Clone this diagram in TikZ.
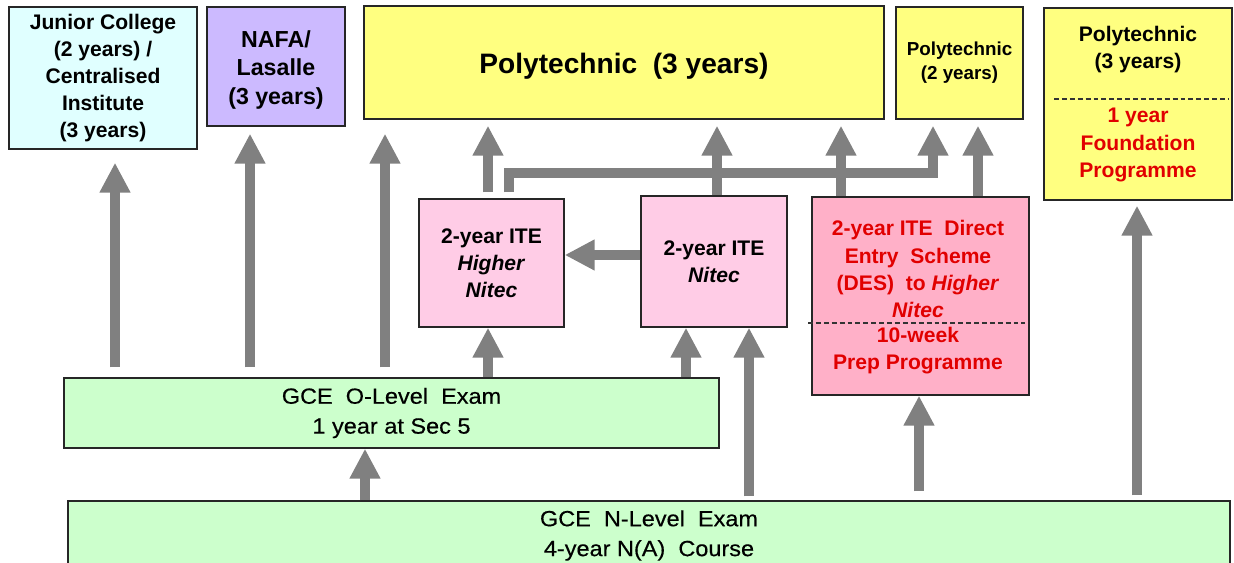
\documentclass[tikz,border=0pt]{standalone}
\usepackage{fontspec}
\setmainfont{Liberation Sans}
\newfontfamily\larges[FakeStretch=1.07,FakeBold=0.4]{Liberation Sans}
\usetikzlibrary{arrows.meta}
\definecolor{cyanclair}{RGB}{224,255,255}
\definecolor{lavande}{RGB}{204,186,255}
\definecolor{jaune}{RGB}{255,255,128}
\definecolor{rosepale}{RGB}{255,204,230}
\definecolor{rosefonce}{RGB}{255,176,200}
\definecolor{vertpale}{RGB}{204,255,204}
\definecolor{gris}{RGB}{128,128,128}
\definecolor{rouge}{RGB}{225,0,0}
\begin{document}
\begin{tikzpicture}[x=0.02cm,y=-0.02cm]
% Styles
\tikzstyle{boite}=[draw=black!85,line width=0.8pt,align=center,inner sep=2pt,font=\bfseries\fontsize{12}{15.4}\selectfont]
\tikzstyle{texte}=[align=center,inner sep=0pt,font=\bfseries\fontsize{12}{15.4}\selectfont]
\tikzstyle{examen}=[boite,fill=vertpale,font=\larges\fontsize{12.5}{17}\selectfont]
\tikzstyle{fleche}=[draw=gris,line width=5.7pt,-{Triangle[length=0.6cm,width=0.58cm]}]
\tikzstyle{tirets}=[black!80,line width=0.7pt,dash pattern=on 2.8pt off 1.7pt]
% Cadre
\useasboundingbox (0,0) rectangle (1234,563);
% Ligne du haut
\node[boite,fill=cyanclair,minimum width=3.76cm,minimum height=2.84cm] (jc) at (103,78)
  {Junior College\\(2 years) /\\Centralised\\Institute\\(3 years)};
\node[boite,fill=lavande,minimum width=2.76cm,minimum height=2.38cm] (nafa) at (276,66.5) {};
\node[texte,font=\bfseries\fontsize{13.2}{16}\selectfont] (nafa-texte) at (276,70)
  {NAFA/\\Lasalle\\(3 years)};
\node[boite,fill=jaune,minimum width=10.4cm,minimum height=2.26cm] (poly) at (624,62.5) {};
\node[texte,font=\bfseries\fontsize{16}{19}\selectfont] (poly-texte) at (624,66)
  {Polytechnic~ (3 years)};
\node[boite,fill=jaune,minimum width=2.54cm,minimum height=2.24cm,font=\bfseries\fontsize{10.7}{13.7}\selectfont] (polyb) at (959.5,63)
  {Polytechnic\\(2 years)};
\node[boite,fill=jaune,minimum width=3.76cm,minimum height=3.84cm] (polyc) at (1138,104) {};
\node[texte] (polyc-haut) at (1138,50) {Polytechnic\\(3 years)};
\node[texte,text=rouge] (polyc-bas) at (1138,145) {1 year\\Foundation\\Programme};
\draw[tirets] (1054,99) -- (1228,99);
% Ligne ITE
\node[boite,fill=rosepale,minimum width=2.9cm,minimum height=2.56cm] (hn) at (491.5,263)
  {2-year ITE\\\textit{Higher}\\\textit{Nitec}};
\node[boite,fill=rosepale,minimum width=2.92cm,minimum height=2.62cm] (nitec) at (714,261.5)
  {2-year ITE\\\textit{Nitec}};
\node[boite,fill=rosefonce,minimum width=4.34cm,minimum height=3.96cm] (des) at (920.5,296) {};
\node[texte,text=rouge] (des-haut) at (918,269)
  {2-year ITE~ Direct\\Entry~ Scheme\\(DES)~ to \textit{Higher}\\\textit{Nitec}};
\node[texte,text=rouge] (des-bas) at (918,351) {10-week\\Prep Programme};
\draw[tirets] (808,323) -- (1025,323);
% Examens
\node[examen,minimum width=13.1cm,minimum height=1.4cm] (olevel) at (391.5,413)
  {GCE~ O-Level~ Exam\\1 year at Sec 5};
\node[examen,minimum width=23.24cm,minimum height=1.38cm] (nlevel) at (649,535.5)
  {GCE~ N-Level~ Exam\\4-year N(A)~ Course};
% Depuis le GCE O-Level
\draw[fleche,shorten <=0.2cm,shorten >=0.26cm] (olevel.north -| 115,0) -- (jc.south -| 115,0);
\draw[fleche,shorten <=0.2cm,shorten >=0.14cm] (olevel.north -| 250,0) -- (nafa.south -| 250,0);
\draw[fleche,shorten <=0.2cm,shorten >=0.28cm] (olevel.north -| 385,0) -- (poly.south -| 385,0);
\draw[fleche] (olevel.north -| 488,0) -- (hn.south -| 488,0);
\draw[fleche] (olevel.north -| 686,0) -- (nitec.south -| 686,0);
% Depuis le GCE N-Level
\draw[fleche] (nlevel.north -| 365,0) -- (olevel.south -| 365,0);
\draw[fleche,shorten <=0.08cm] (nlevel.north -| 749,0) -- (nitec.south -| 749,0);
\draw[fleche,shorten <=0.18cm] (nlevel.north -| 919,0) -- (des.south -| 919,0);
\draw[fleche,shorten <=0.1cm,shorten >=0.1cm] (nlevel.north -| 1137,0) -- (polyc.south -| 1137,0);
% Vers les Polytechnics
\draw[fleche,shorten <=0.12cm,shorten >=0.12cm] (hn.north -| 488,0) -- (poly.south -| 488,0);
\draw[fleche,shorten >=0.12cm] (nitec.north -| 717,0) -- (poly.south -| 717,0);
\draw[fleche,shorten >=0.12cm] (des.north -| 841,0) -- (poly.south -| 841,0);
\draw[fleche,shorten >=0.12cm] (des.north -| 978,0) -- (polyb.south -| 978,0);
\draw[fleche,line join=miter,shorten <=0.12cm,shorten >=0.12cm] (hn.north -| 509,0) -- (509,173) -- (933,173) -- (polyb.south -| 933,0);
% Nitec vers Higher Nitec
\draw[fleche] (nitec.west |- 0,255) -- (hn.east |- 0,255);
\end{tikzpicture}
\end{document}
